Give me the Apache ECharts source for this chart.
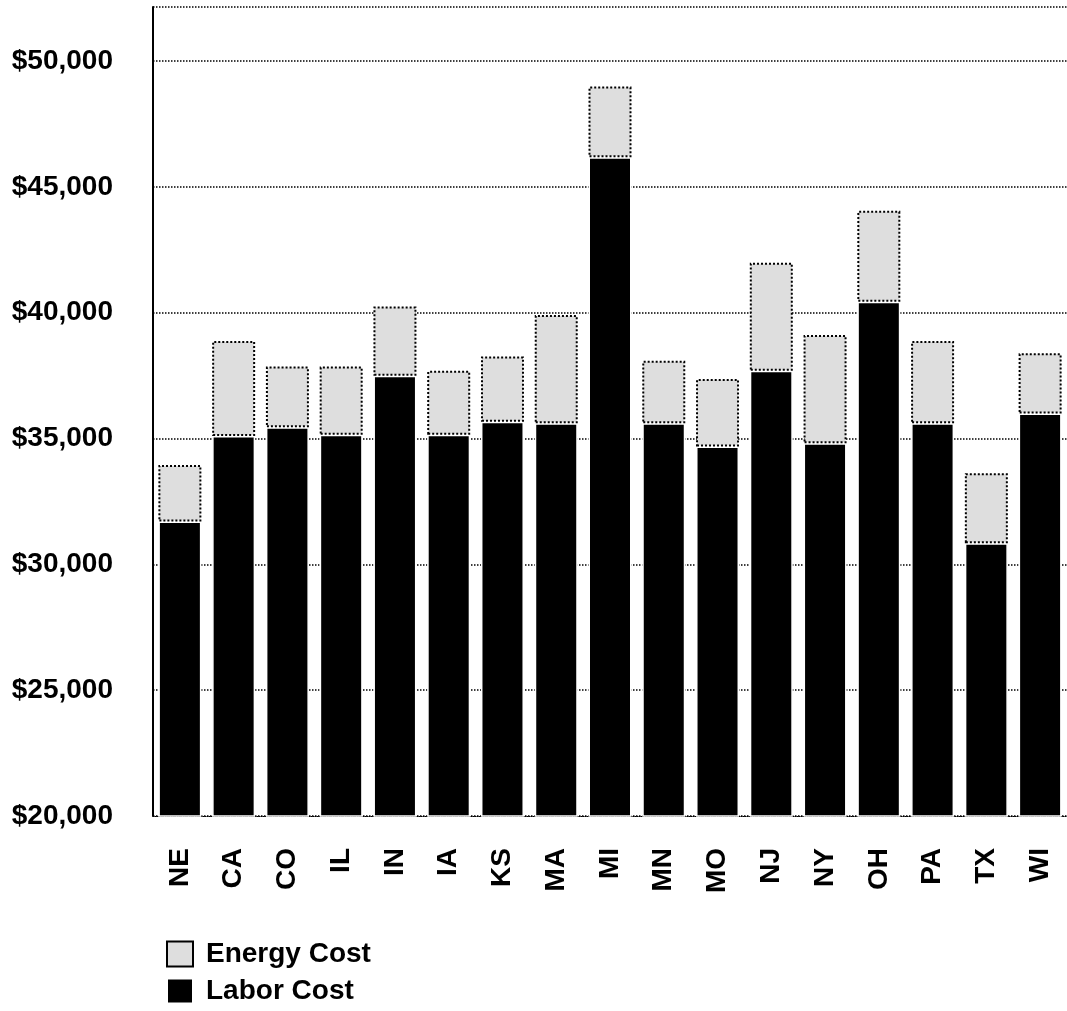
<!DOCTYPE html>
<html>
<head>
<meta charset="utf-8">
<script src="https://cdn.jsdelivr.net/npm/echarts@6/dist/echarts.min.js"></script>
<style>
html,body{margin:0;padding:0;background:#fff;}
#chart{width:1067px;height:1011px;}
</style>
</head>
<body>
<div id="chart"></div>
<script>
var categories = ['NE','CA','CO','IL','IN','IA','KS','MA','MI','MN','MO','NJ','NY','OH','PA','TX','WI'];
var laborCost  = [31700,35100,35450,35150,37500,35150,35670,35610,46180,35610,34680,37690,34810,40440,35610,30840,36000];
var totalCost  = [33950,38880,37860,37860,40250,37690,38260,39910,48990,38090,37370,41990,39120,44050,38880,33620,38390];
var energyCost = totalCost.map(function(t, i){ return t - laborCost[i]; });
var yTicks = [20000,25000,30000,35000,40000,45000,50000];

var FONT = '"Liberation Sans", Arial, sans-serif';
var legendText = { fontFamily: FONT, fontWeight: 'bold', fontSize: 28, color: '#000', padding: [0,0,0,8] };
var chart = echarts.init(document.getElementById('chart'));
chart.setOption({
  animation: false,
  backgroundColor: '#fff',
  grid: { left: 153, top: 7, width: 921, bottom: 195, containLabel: false },
  legend: [
    {
      left: 166, top: 940, padding: 0, itemWidth: 26, itemHeight: 25, icon: 'rect',
      data: ['Energy Cost'], textStyle: legendText
    },
    {
      left: 166, top: 977, padding: 0, itemWidth: 26, itemHeight: 25, icon: 'rect',
      data: ['Labor Cost'], textStyle: legendText
    }
  ],
  xAxis: {
    type: 'category',
    data: categories,
    axisLine: { show: true, lineStyle: { color: '#000', width: 1, type: 'dotted' } },
    axisTick: { show: false },
    axisLabel: { rotate: 90, margin: 32, fontFamily: FONT, fontWeight: 'bold', fontSize: 28, color: '#000' }
  },
  yAxis: {
    type: 'value',
    min: 20000, max: 52150, interval: 5000,
    axisLine: { show: true, lineStyle: { color: '#000', width: 2 } },
    axisTick: { show: false },
    splitLine: { show: true, lineStyle: { color: '#000', width: 1.5, type: 'dotted' } },
    axisLabel: {
      margin: 40, fontFamily: FONT, fontWeight: 'bold', fontSize: 28, color: '#000',
      formatter: function(v){
        if (yTicks.indexOf(v) < 0) return '';
        return '$' + v.toLocaleString('en-US');
      }
    }
  },
  series: [
    {
      name: 'Labor Cost', type: 'bar', stack: 'cost', barWidth: 43,
      data: laborCost,
      itemStyle: { color: '#000', borderColor: '#fff', borderWidth: 1.5 }
    },
    {
      name: 'Energy Cost', type: 'bar', stack: 'cost', barWidth: 43,
      data: energyCost,
      itemStyle: { color: '#dedede', borderColor: '#000', borderWidth: 2, borderType: 'dotted' }
    }
  ]
});
</script>
</body>
</html>
